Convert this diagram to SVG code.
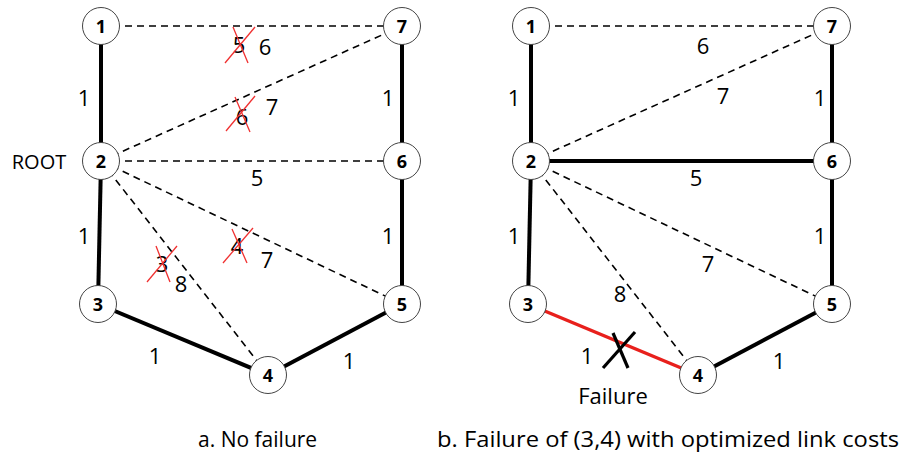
<svg xmlns="http://www.w3.org/2000/svg" width="903" height="458" viewBox="0 0 903 458">
<style>
text{font-family:"Open Sans","DejaVu Sans",sans-serif;fill:#000}
.lbl{font-size:22px;text-anchor:middle;dominant-baseline:central}
.nl{font-size:18px;font-weight:bold;text-anchor:middle;dominant-baseline:central}
.cap{font-size:21px}
.solid{stroke:#000;stroke-width:4;fill:none}
.dash{stroke:#000;stroke-width:1.6;stroke-dasharray:7 5;fill:none}
.red{stroke:#e8201c;stroke-width:3.5;fill:none}
.x{stroke:#f03030;stroke-width:1.3}
.fx{stroke:#000;stroke-width:3.2}
circle{fill:#fff;stroke:#444;stroke-width:1}
</style>
<rect width="903" height="458" fill="#fff"/>
<g id="connectors">
<line class="dash" x1="101" y1="26" x2="402" y2="26"/>
<line class="dash" x1="101" y1="161" x2="402" y2="26"/>
<line class="dash" x1="101" y1="161" x2="402" y2="161"/>
<line class="dash" x1="101" y1="161" x2="402" y2="304"/>
<line class="dash" x1="101" y1="161" x2="268" y2="375"/>
<line class="solid" x1="101" y1="26" x2="101" y2="161"/>
<line class="solid" x1="101" y1="161" x2="98" y2="304"/>
<line class="solid" x1="98" y1="304" x2="268" y2="375"/>
<line class="solid" x1="268" y1="375" x2="402" y2="304"/>
<line class="solid" x1="402" y1="26" x2="402" y2="161"/>
<line class="solid" x1="402" y1="161" x2="402" y2="304"/>
<line class="dash" x1="531" y1="26" x2="832" y2="26"/>
<line class="dash" x1="531" y1="161" x2="832" y2="26"/>
<line class="solid" x1="531" y1="161" x2="832" y2="161"/>
<line class="dash" x1="531" y1="161" x2="832" y2="304"/>
<line class="dash" x1="531" y1="161" x2="698" y2="375"/>
<line class="solid" x1="531" y1="26" x2="531" y2="161"/>
<line class="solid" x1="531" y1="161" x2="528" y2="304"/>
<line class="red" x1="528" y1="304" x2="698" y2="375"/>
<line class="solid" x1="698" y1="375" x2="832" y2="304"/>
<line class="solid" x1="832" y1="26" x2="832" y2="161"/>
<line class="solid" x1="832" y1="161" x2="832" y2="304"/>
</g>
<g id="labels-left">
<text class="lbl" x="84" y="97">1</text>
<text class="lbl" x="84" y="235">1</text>
<text class="lbl" x="388" y="97">1</text>
<text class="lbl" x="388" y="235">1</text>
<text class="lbl" x="257" y="177">5</text>
<text class="lbl" x="155" y="355">1</text>
<text class="lbl" x="349" y="360">1</text>
<text class="lbl" x="239" y="44">5</text>
<text class="lbl" x="265" y="46">6</text>
<text class="lbl" x="242" y="116">6</text>
<text class="lbl" x="272" y="106">7</text>
<text class="lbl" x="162" y="263">3</text>
<text class="lbl" x="181" y="283">8</text>
<text class="lbl" x="237" y="245">4</text>
<text class="lbl" x="267" y="259">7</text>
<text x="39" y="161" style="font-size:20px;text-anchor:middle;dominant-baseline:central">ROOT</text>
</g>
<g id="crosses">
<line class="x" x1="233" y1="27" x2="248" y2="63"/>
<line class="x" x1="225" y1="63" x2="255" y2="27"/>
<line class="x" x1="235" y1="97" x2="250" y2="132"/>
<line class="x" x1="226" y1="131" x2="255" y2="96"/>
<line class="x" x1="156" y1="246" x2="170" y2="282"/>
<line class="x" x1="147" y1="282" x2="177" y2="246"/>
<line class="x" x1="232" y1="229" x2="247" y2="263"/>
<line class="x" x1="223" y1="263" x2="253" y2="228"/>
</g>
<g id="labels-right">
<text class="lbl" x="514" y="97">1</text>
<text class="lbl" x="514" y="235">1</text>
<text class="lbl" x="820" y="97">1</text>
<text class="lbl" x="820" y="235">1</text>
<text class="lbl" x="703" y="45">6</text>
<text class="lbl" x="723" y="95">7</text>
<text class="lbl" x="696" y="177">5</text>
<text class="lbl" x="708" y="263">7</text>
<text class="lbl" x="620" y="293">8</text>
<text class="lbl" x="587" y="355">1</text>
<text class="lbl" x="779" y="360">1</text>
<text class="lbl" x="613" y="395">Failure</text>
</g>
<g id="failure-mark">
<line class="fx" x1="613" y1="333" x2="628" y2="368"/>
<line class="fx" x1="635" y1="332" x2="603" y2="368"/>
</g>
<g id="node-a1"><circle cx="101" cy="26" r="18.5"/><text class="nl" x="101" y="26">1</text></g>
<g id="node-a7"><circle cx="402" cy="26" r="18.5"/><text class="nl" x="402" y="26">7</text></g>
<g id="node-a2"><circle cx="101" cy="161" r="18.5"/><text class="nl" x="101" y="161">2</text></g>
<g id="node-a6"><circle cx="402" cy="161" r="18.5"/><text class="nl" x="402" y="161">6</text></g>
<g id="node-a3"><circle cx="98" cy="304" r="18.5"/><text class="nl" x="98" y="304">3</text></g>
<g id="node-a5"><circle cx="402" cy="304" r="18.5"/><text class="nl" x="402" y="304">5</text></g>
<g id="node-a4"><circle cx="268" cy="375" r="18.5"/><text class="nl" x="268" y="375">4</text></g>
<g id="node-b1"><circle cx="531" cy="26" r="18.5"/><text class="nl" x="531" y="26">1</text></g>
<g id="node-b7"><circle cx="832" cy="26" r="18.5"/><text class="nl" x="832" y="26">7</text></g>
<g id="node-b2"><circle cx="531" cy="161" r="18.5"/><text class="nl" x="531" y="161">2</text></g>
<g id="node-b6"><circle cx="832" cy="161" r="18.5"/><text class="nl" x="832" y="161">6</text></g>
<g id="node-b3"><circle cx="528" cy="304" r="18.5"/><text class="nl" x="528" y="304">3</text></g>
<g id="node-b5"><circle cx="832" cy="304" r="18.5"/><text class="nl" x="832" y="304">5</text></g>
<g id="node-b4"><circle cx="698" cy="375" r="18.5"/><text class="nl" x="698" y="375">4</text></g>
<g id="captions">
<text class="cap" x="198" y="447">a. No failure</text>
<text class="cap" x="437" y="447" textLength="462" lengthAdjust="spacingAndGlyphs">b. Failure of (3,4) with optimized link costs</text>
</g>
</svg>
